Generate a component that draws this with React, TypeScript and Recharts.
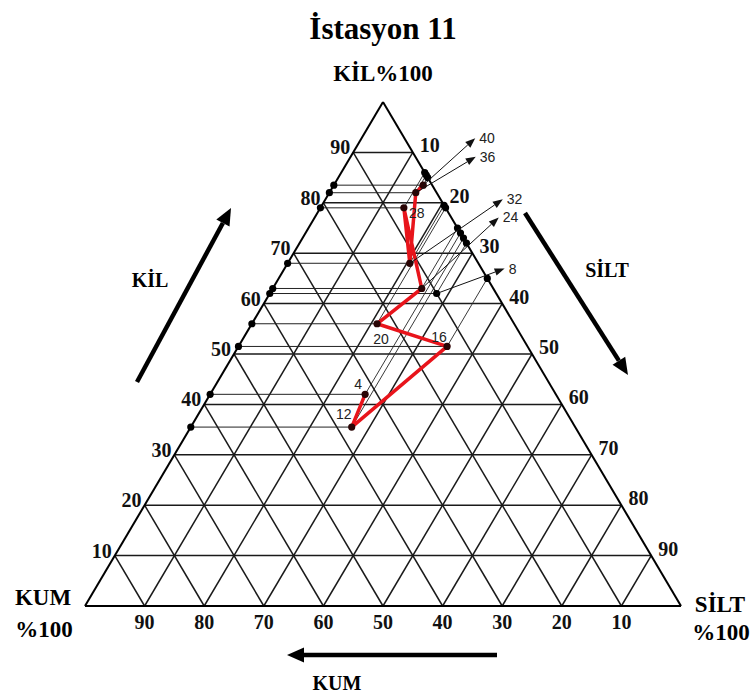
import React from 'react';
import { ScatterChart, Scatter, XAxis, YAxis, ReferenceLine } from 'recharts';

// sample depths (cm) and their texture (%), sand = 100 - silt - clay
const depths = [4, 8, 12, 16, 20, 24, 28, 32, 36, 40];
const clayPct = [42, 62, 35.5, 51.5, 56, 63, 79, 68, 82, 83.5];
const siltPct = [26, 28, 27, 35, 21, 25, 14, 20.5, 14.5, 15];
// the red profile line skips 8 in the original
const joined = [4, 12, 16, 20, 24, 28, 32, 36, 40];
const gridTicks = [10, 20, 30, 40, 50, 60, 70, 80, 90];

const W = 755;
const H = 696;
const TRI = { left: 85, right: 681, top: 102, bottom: 606 };
const KX = (TRI.right - TRI.left) / 100;
const KY = (TRI.bottom - TRI.top) / 100;
const X_DOMAIN: [number, number] = [-TRI.left / KX, 100 + (W - TRI.right) / KX];
const Y_DOMAIN: [number, number] = [-(H - TRI.bottom) / KY, 100 + TRI.top / KY];

const SERIF = '"Liberation Serif", "Times New Roman", serif';
const SANS = '"Liberation Sans", Arial, sans-serif';
const RED = '#e8141b';

// ternary -> cartesian (clay at apex, sand bottom-left, silt bottom-right)
const tern = (silt: number, clay: number) => ({ x: silt + clay / 2, y: clay });

const samples = depths.map((depth, i) => ({
  depth,
  silt: siltPct[i],
  clay: clayPct[i],
  ...tern(siltPct[i], clayPct[i]),
}));
const pathPoints = joined.map((d) => samples.find((s) => s.depth === d)!);
const loose = samples.filter((s) => !joined.includes(s.depth));

const gridSegments = [
  ...gridTicks.map((c) => [tern(0, c), tern(100 - c, c)]),
  ...gridTicks.map((s) => [tern(s, 0), tern(s, 100 - s)]),
  ...gridTicks.map((a) => [tern(100 - a, 0), tern(0, 100 - a)]),
];
const edges = [
  [tern(0, 0), tern(100, 0)],
  [tern(0, 0), tern(0, 100)],
  [tern(100, 0), tern(0, 100)],
];

const leftDots = samples.map((s) => tern(0, s.clay));
const rightDots = samples.map((s) => tern(s.silt, 100 - s.silt));

const tickLabels = [
  ...gridTicks.map((v) => ({ ...tern(0, v), text: String(v), side: 'left' })),
  ...gridTicks.map((v) => ({ ...tern(v, 100 - v), text: String(v), side: 'right' })),
  ...gridTicks.map((v) => ({ ...tern(100 - v, 0), text: String(v), side: 'bottom' })),
];

const TICK_POS: Record<string, { dx: number; dy: number; anchor: string }> = {
  left: { dx: -3, dy: 2, anchor: 'end' },
  right: { dx: 7, dy: 0, anchor: 'start' },
  bottom: { dx: 0, dy: 23, anchor: 'middle' },
};

// depth labels: either an arrow tip offset (px) or a direct text offset (px)
const CALLOUT: Record<number, { arrow?: [number, number]; text?: [number, number] }> = {
  4: { text: [-7, -10] },
  8: { arrow: [68, -25] },
  12: { text: [-8, -13] },
  16: { text: [-8, -9] },
  20: { text: [4, 15] },
  24: { arrow: [77, -71] },
  28: { text: [13, 5] },
  32: { arrow: [93, -64] },
  36: { arrow: [60, -36] },
  40: { arrow: [52, -47] },
};

// frame texts and big arrows, anchored on corners / edge midpoints
const annotations = [
  { ...tern(0, 100), text: 'İstasyon 11', dx: 0, dy: -63, size: 31, anchor: 'middle' },
  { ...tern(0, 100), text: 'KİL%100', dx: 0, dy: -21, size: 23, anchor: 'middle' },
  { ...tern(0, 0), text: 'KUM', dx: -42, dy: -1, size: 23, anchor: 'middle' },
  { ...tern(0, 0), text: '%100', dx: -41, dy: 31, size: 23, anchor: 'middle' },
  { ...tern(100, 0), text: 'SİLT', dx: 39, dy: 6, size: 23, anchor: 'middle' },
  { ...tern(100, 0), text: '%100', dx: 40, dy: 34, size: 23, anchor: 'middle' },
  { ...tern(0, 50), text: 'KİL', dx: -84, dy: -67, size: 20, anchor: 'middle' },
  { ...tern(50, 50), text: 'SİLT', dx: 75, dy: -77, size: 20, anchor: 'middle' },
  { ...tern(50, 0), text: 'KUM', dx: -46, dy: 84, size: 20, anchor: 'middle' },
];
const bigArrows = [
  { ...tern(0, 50), from: [-97, 28], to: [-3, -146] },
  { ...tern(50, 50), from: [-7, -141], to: [96, 21] },
  { ...tern(50, 0), from: [114, 49], to: [-96, 49] },
];

const arrow = (x1: number, y1: number, x2: number, y2: number, w: number, len: number, half: number, color: string) => {
  const L = Math.hypot(x2 - x1, y2 - y1);
  const ux = (x2 - x1) / L;
  const uy = (y2 - y1) / L;
  const bx = x2 - ux * len;
  const by = y2 - uy * len;
  return (
    <g>
      <line x1={x1} y1={y1} x2={bx} y2={by} stroke={color} strokeWidth={w} />
      <polygon
        points={`${x2},${y2} ${bx - uy * half},${by + ux * half} ${bx + uy * half},${by - ux * half}`}
        fill={color}
      />
    </g>
  );
};

const Dot = (p: any) => <circle cx={p.cx} cy={p.cy} r={3.6} fill="#000" />;
const PathDot = (p: any) => <circle cx={p.cx} cy={p.cy} r={3.6} fill="#2a0505" />;

const TickText = (p: any) => {
  const o = TICK_POS[p.payload.side];
  return (
    <text x={p.cx + o.dx} y={p.cy + o.dy} textAnchor={o.anchor} fontFamily={SERIF} fontWeight="bold" fontSize={20} fill="#111">
      {p.payload.text}
    </text>
  );
};

const DepthLabel = (p: any) => {
  const c = CALLOUT[p.payload.depth];
  if (c.arrow) {
    const tx = p.cx + c.arrow[0];
    const ty = p.cy + c.arrow[1];
    return (
      <g>
        {arrow(p.cx, p.cy, tx, ty, 1, 10, 3.8, '#111')}
        <text x={tx + 4} y={ty + 5} fontFamily={SANS} fontSize={14} fill="#222">
          {p.payload.depth}
        </text>
      </g>
    );
  }
  return (
    <text x={p.cx + c.text![0]} y={p.cy + c.text![1] + 5} textAnchor="middle" fontFamily={SANS} fontSize={14} fill="#222">
      {p.payload.depth}
    </text>
  );
};

const FrameText = (p: any) => (
  <text
    x={p.cx + p.payload.dx}
    y={p.cy + p.payload.dy}
    textAnchor={p.payload.anchor}
    fontFamily={SERIF}
    fontWeight="bold"
    fontSize={p.payload.size}
    fill="#000"
  >
    {p.payload.text}
  </text>
);

const BigArrow = (p: any) =>
  arrow(p.cx + p.payload.from[0], p.cy + p.payload.from[1], p.cx + p.payload.to[0], p.cy + p.payload.to[1], 4.5, 17, 7.5, '#000');

export default function App() {
  return (
    <div style={{ position: 'absolute', left: 0, top: 0, background: '#fff' }}>
      <ScatterChart width={W} height={H} margin={{ top: 0, right: 0, bottom: 0, left: 0 }}>
        <XAxis type="number" dataKey="x" domain={X_DOMAIN} allowDataOverflow hide />
        <YAxis type="number" dataKey="y" domain={Y_DOMAIN} allowDataOverflow hide />

        {gridSegments.map((seg, i) => (
          <ReferenceLine key={`g${i}`} segment={seg} stroke="#1a1a1a" strokeWidth={1.5} ifOverflow="visible" />
        ))}
        {edges.map((seg, i) => (
          <ReferenceLine key={`e${i}`} segment={seg} stroke="#000" strokeWidth={2} ifOverflow="visible" />
        ))}
        {samples.map((s) => (
          <ReferenceLine
            key={`h${s.depth}`}
            segment={[tern(s.silt, s.clay), tern(0, s.clay)]}
            stroke="#222"
            strokeWidth={1}
            ifOverflow="visible"
          />
        ))}
        {samples.map((s) => (
          <ReferenceLine
            key={`r${s.depth}`}
            segment={[tern(s.silt, s.clay), tern(s.silt, 100 - s.silt)]}
            stroke="#222"
            strokeWidth={0.9}
            ifOverflow="visible"
          />
        ))}

        <Scatter data={leftDots} shape={Dot} isAnimationActive={false} />
        <Scatter data={rightDots} shape={Dot} isAnimationActive={false} />
        <Scatter data={loose} shape={Dot} isAnimationActive={false} />
        <Scatter
          data={pathPoints}
          line={{ stroke: RED, strokeWidth: 3.5 }}
          lineType="joint"
          shape={PathDot}
          isAnimationActive={false}
        />
        <Scatter data={samples} shape={DepthLabel} isAnimationActive={false} />
        <Scatter data={tickLabels} shape={TickText} isAnimationActive={false} />
        <Scatter data={annotations} shape={FrameText} isAnimationActive={false} />
        <Scatter data={bigArrows} shape={BigArrow} isAnimationActive={false} />
      </ScatterChart>
    </div>
  );
}
